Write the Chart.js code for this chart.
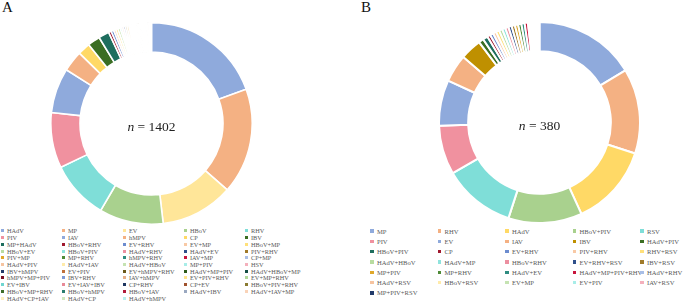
<!DOCTYPE html>
<html lang="en">
<head>
<meta charset="UTF-8">
<title>Pathogen detections</title>
<script src="https://cdn.jsdelivr.net/npm/chart.js"></script>
<style>
  body { margin: 0; width: 684px; height: 303px; background: #fff; position: relative; overflow: hidden;
         font-family: "Liberation Serif", "Times New Roman", serif; }
  .tag { position: absolute; top: -1px; font-size: 15px; color: #111; }
  .wrap { position: absolute; width: 203px; height: 203px; }
  .legend { position: absolute; display: grid; color: #595959; white-space: nowrap; }
  .legend span { display: flex; align-items: center; }
  .legend i { display: inline-block; flex: none; }
</style>
</head>
<body>
<div class="tag" style="left:2px">A</div>
<div class="tag" style="left:361px">B</div>
<div class="wrap" style="left:50px;top:22px"><canvas id="chartA" width="203" height="203"></canvas></div>
<div class="wrap" style="left:438px;top:21px"><canvas id="chartB" width="203" height="203"></canvas></div>
<div id="legendA" class="legend"></div>
<div id="legendB" class="legend"></div>

<script>
// panel A, n = 1402
const labelsA = ['HAdV', 'MP', 'EV', 'HBoV', 'RHV', 'PIV', 'IAV', 'hMPV', 'CP', 'IBV',
  'MP+HAdV', 'HBoV+RHV', 'EV+RHV', 'EV+MP', 'HBoV+MP', 'HBoV+EV', 'HBoV+PIV', 'HAdV+RHV', 'HAdV+EV', 'PIV+RHV',
  'PIV+MP', 'MP+RHV', 'hMPV+RHV', 'IAV+MP', 'CP+MP', 'HAdV+PIV', 'HAdV+IAV', 'HAdV+HBoV', 'MP+PIV', 'HSV',
  'IBV+hMPV', 'EV+PIV', 'EV+hMPV+RHV', 'HAdV+MP+PIV', 'HAdV+HBoV+MP', 'hMPV+MP+PIV', 'IBV+RHV', 'IAV+hMPV', 'EV+PIV+RHV', 'EV+MP+RHV',
  'EV+IBV', 'EV+IAV+IBV', 'CP+RHV', 'CP+EV', 'HBoV+PIV+RHV', 'HBoV+MP+RHV', 'HBoV+hMPV', 'HBoV+IAV', 'HAdV+IBV', 'HAdV+IAV+MP',
  'HAdV+CP+IAV', 'HAdV+CP', 'HAdV+hMPV'];
const countsA = [273, 238, 164, 144, 132, 125, 101, 47, 28, 28,
  24, 6, 6, 5, 5, 5, 4, 4, 4, 4,
  4, 2, 2, 2, 2, 2, 2, 2, 2, 2,
  2, 2, 2, 2, 2, 2, 2, 2, 2, 2,
  1, 1, 1, 1, 1, 1, 1, 1, 1, 1,
  1, 1, 1];
const coloursA = ['#8faadc', '#f4b183', '#ffe699', '#a9d18e', '#7fded8', '#f0919f', '#8faadc', '#f4b183', '#ffd966', '#3b6e23',
  '#1e6e5e', '#a0182e', '#6c8ccf', '#f8c9a5', '#ffe07a', '#b8dca0', '#8fe3dd', '#ec8fa0', '#2f4f8a', '#a07a2a',
  '#e0a82a', '#4e8a36', '#2e8c80', '#c8143c', '#a9bee6', '#f6c4a0', '#ffebaa', '#c5e3b2', '#a8ede8', '#f4b0bc',
  '#223a6a', '#c0703a', '#6b5a1a', '#2d5a1a', '#164e45', '#7a1024', '#7e9ad6', '#e6b08a', '#ffe38c', '#b0d898',
  '#6fd6d0', '#e88a98', '#1e3560', '#a0522d', '#8a7a30', '#3f6e2a', '#2a7d70', '#b01a3a', '#9aa8c0', '#f9d3b8',
  '#fff0c0', '#d0e8c0', '#b8f0ec'];

// panel B, n = 380
const labelsB = ['MP', 'RHV', 'HAdV', 'HBoV+PIV', 'RSV', 'PIV', 'EV', 'IAV', 'IBV', 'HAdV+PIV',
  'HBoV+PIV', 'CP', 'EV+RHV', 'PIV+RHV', 'RHV+RSV', 'HAdV+HBoV', 'HAdV+MP', 'HBoV+RHV', 'EV+RHV+RSV', 'IBV+RSV',
  'MP+PIV', 'MP+RHV', 'HAdV+EV', 'HAdV+MP+PIV+RHV', 'HAdV+RHV', 'HAdV+RSV', 'HBoV+RSV', 'EV+MP', 'EV+PIV', 'IAV+RSV',
  'MP+PIV+RSV'];
const countsB = [62, 52, 50, 45, 44, 30, 28, 17, 13, 3,
  3, 2, 2, 2, 2, 2, 2, 2, 2, 2,
  2, 2, 2, 2, 1, 1, 1, 1, 1, 1,
  1];
const coloursB = ['#8faadc', '#f4b183', '#ffd966', '#a9d18e', '#7fded8', '#f0919f', '#8faadc', '#f4b183', '#bf9000', '#3b6e23',
  '#1e6e5e', '#a0182e', '#6c8ccf', '#f8c9a5', '#ffe07a', '#b8dca0', '#8fe3dd', '#ec8fa0', '#2f4f8a', '#a07a2a',
  '#e0a82a', '#4e8a36', '#2e8c80', '#c8143c', '#a9bee6', '#f6c4a0', '#ffebaa', '#c5e3b2', '#a8ede8', '#f4b0bc',
  '#223a6a'];

// writes "n = ..." in the hole of the ring
const centreText = {
  id: 'centreText',
  afterDraw(chart, args, opts) {
    const arc = chart.getDatasetMeta(0).data[0];
    const ctx = chart.ctx;
    ctx.save();
    ctx.fillStyle = '#222';
    ctx.textBaseline = 'middle';
    const italic = 'italic 13.5px "Liberation Serif"';
    const plain = '13.5px "Liberation Serif"';
    ctx.font = italic;
    const w1 = ctx.measureText('n').width;
    ctx.font = plain;
    const rest = ' = ' + opts.total;
    const w2 = ctx.measureText(rest).width;
    let x = arc.x - (w1 + w2) / 2;
    const y = arc.y + 4;
    ctx.font = italic;
    ctx.fillText('n', x, y);
    ctx.font = plain;
    ctx.fillText(rest, x + w1, y);
    ctx.restore();
  }
};

function makeRing(id, labels, counts, colours, border) {
  const total = counts.reduce((a, b) => a + b, 0);
  return new Chart(document.getElementById(id), {
    type: 'doughnut',
    data: {
      labels: labels,
      datasets: [{ data: counts, backgroundColor: colours, borderColor: '#fff', borderWidth: border }]
    },
    options: {
      responsive: false,
      animation: false,
      cutout: '71%',
      layout: { padding: 0 },
      plugins: { legend: { display: false }, tooltip: { enabled: false }, centreText: { total: total } }
    },
    plugins: [centreText]
  });
}

function makeLegend(id, labels, colours, box) {
  const el = document.getElementById(id);
  el.style.left = box.left + 'px';
  el.style.top = box.top + 'px';
  el.style.fontSize = box.font + 'px';
  el.style.gridTemplateColumns = 'repeat(5, ' + box.col + 'px)';
  el.style.gridAutoRows = box.row + 'px';
  labels.forEach((t, i) => {
    const s = document.createElement('span');
    const m = document.createElement('i');
    m.style.width = m.style.height = box.mark + 'px';
    m.style.marginRight = box.gap + 'px';
    m.style.background = colours[i];
    s.appendChild(m);
    s.appendChild(document.createTextNode(t));
    el.appendChild(s);
  });
}

makeRing('chartA', labelsA, countsA, coloursA, 1.6);
makeRing('chartB', labelsB, countsB, coloursB, 2);
makeLegend('legendA', labelsA, coloursA, { left: 1, top: 227.5, font: 6.3, col: 61, row: 6.73, mark: 3, gap: 3 });
makeLegend('legendB', labelsB, coloursB, { left: 370, top: 226, font: 6.6, col: 67.5, row: 10.3, mark: 3.5, gap: 3.5 });
</script>
</body>
</html>
